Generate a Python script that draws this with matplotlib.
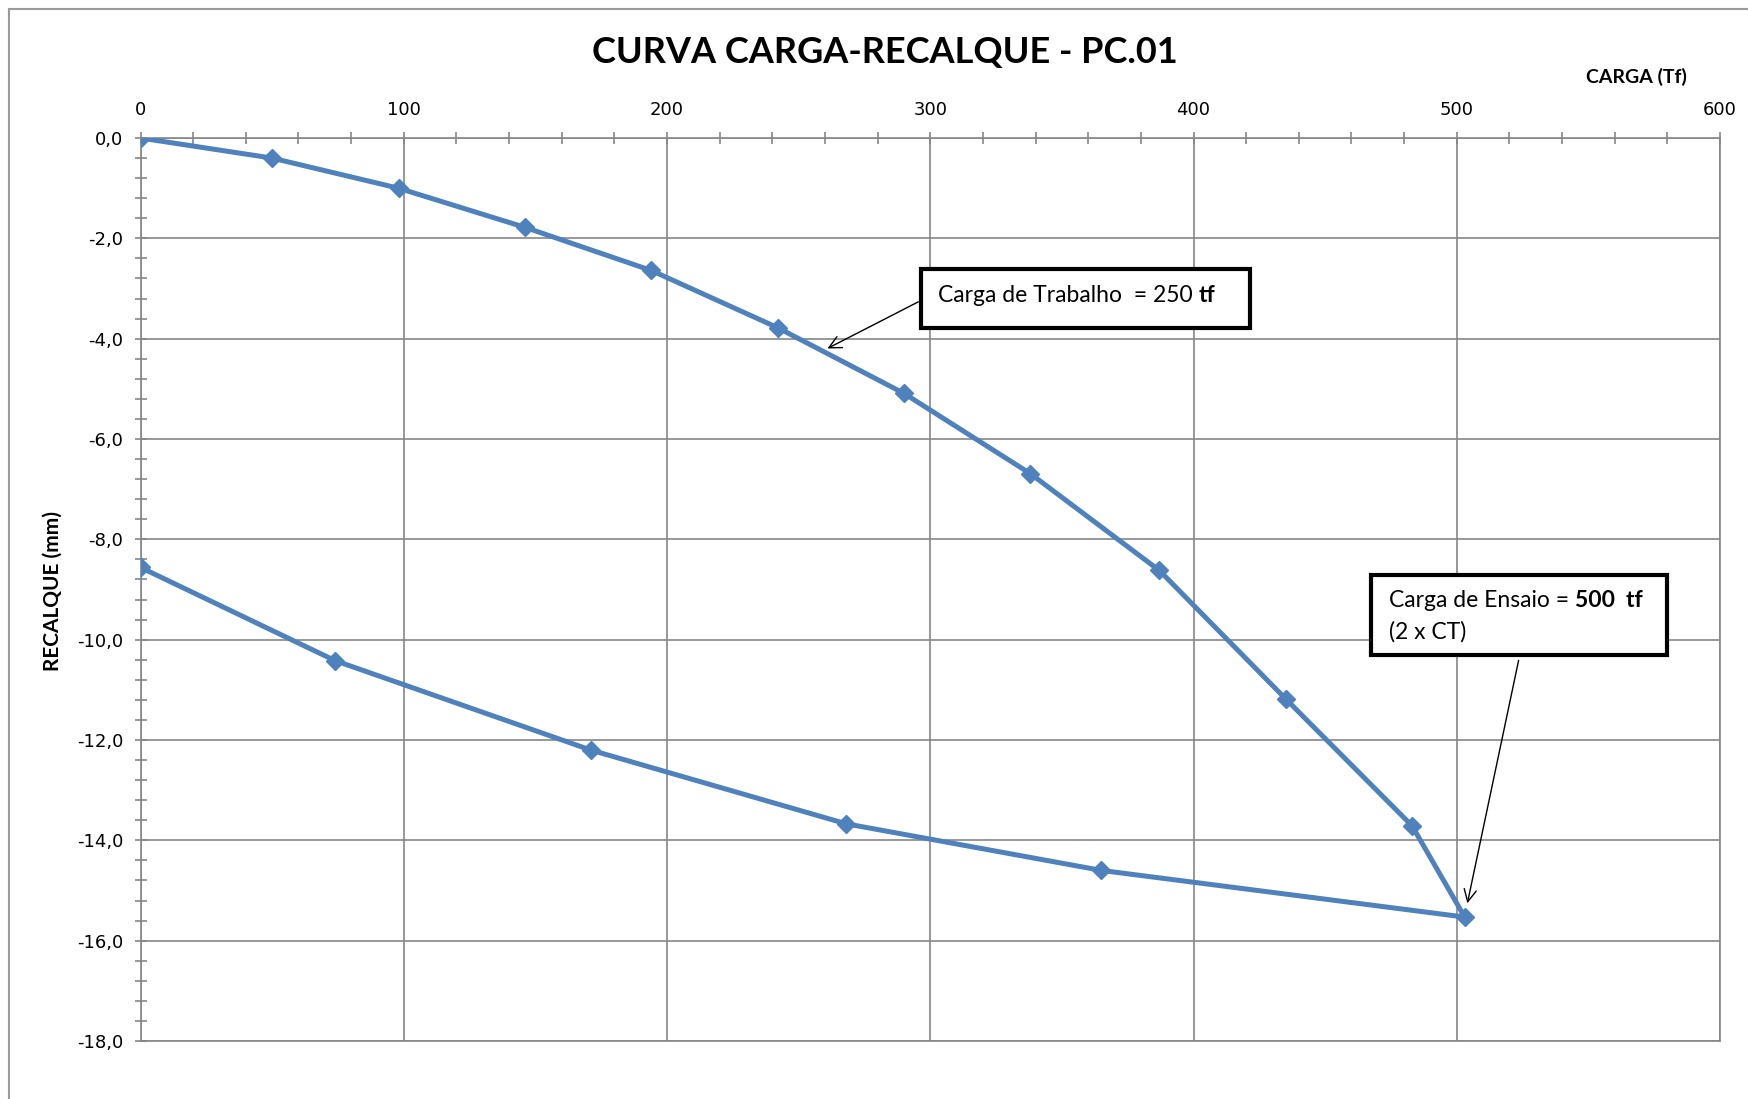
import matplotlib
matplotlib.use("Agg")
import matplotlib.pyplot as plt
from matplotlib.ticker import MultipleLocator, FuncFormatter
from matplotlib.patches import Rectangle
from matplotlib.lines import Line2D

# load (tf) and settlement (mm)
carga_ida = [0, 50, 98, 146, 194, 242, 290, 338, 387, 435, 483, 503]
recalque_ida = [0.0, -0.40, -1.00, -1.78, -2.64, -3.78, -5.09, -6.69, -8.62, -11.18, -13.71, -15.53]
carga_volta = [503, 365, 268, 171, 74, 0]
recalque_volta = [-15.53, -14.60, -13.67, -12.20, -10.42, -8.56]

x_ticks = [0, 100, 200, 300, 400, 500, 600]
y_ticks = [0, -2, -4, -6, -8, -10, -12, -14, -16, -18]

azul = "#4F81BD"
cinza = "#868686"
fonte = "Lato"

fig = plt.figure(figsize=(17.48, 10.99), dpi=100)
ax = fig.add_axes([0.0804, 0.0528, 0.9036, 0.8216])

ax.plot(carga_ida + carga_volta[1:], recalque_ida + recalque_volta[1:], color=azul,
        lw=3.6, marker="D", markersize=9, zorder=3)

ax.set_xlim(0, 600)
ax.set_ylim(-18, 0)
ax.xaxis.tick_top()
ax.set_xticks(x_ticks)
ax.set_yticks(y_ticks)
ax.xaxis.set_minor_locator(MultipleLocator(20))
ax.yaxis.set_minor_locator(MultipleLocator(0.4))
ax.yaxis.set_major_formatter(FuncFormatter(lambda v, p: f"{v:.1f}".replace(".", ",").replace("-0,0", "0,0")))
ax.tick_params(which="both", direction="inout", color=cinza, width=1.2)
ax.tick_params(which="major", length=9, labelsize=13, pad=8)
ax.tick_params(which="minor", length=8)
ax.tick_params(axis="x", which="both", top=True, bottom=False)
ax.tick_params(axis="x", which="major", pad=9)
ax.grid(True, which="major", color=cinza, lw=1.2)
for s in ax.spines.values():
    s.set_color(cinza)
    s.set_linewidth(1.2)

# annotation boxes
ax.add_patch(Rectangle((296.4, -3.78), 124.9, 1.16, facecolor="white", edgecolor="black", lw=3, zorder=5))
t1 = ax.text(303, -3.13, "Carga de Trabalho  = 250 ", fontsize=16.5, family=fonte, va="center", zorder=6)
ax.annotate("tf", xy=(1, 0), xycoords=t1, va="bottom", fontsize=16.5, family=fonte, weight="bold", zorder=6)
ax.annotate("", xy=(260, -4.22), xytext=(296.4, -3.24),
            arrowprops=dict(arrowstyle="->", color="black", lw=1.0, mutation_scale=22), zorder=6)

ax.add_patch(Rectangle((467.4, -10.31), 112.6, 1.6, facecolor="white", edgecolor="black", lw=3, zorder=5))
t2 = ax.text(474.2, -9.22, "Carga de Ensaio = ", fontsize=16.5, family=fonte, va="center", zorder=6)
ax.annotate("500  tf", xy=(1, 0), xycoords=t2, va="bottom", fontsize=16.5, family=fonte, weight="bold", zorder=6)
ax.text(474.2, -9.84, "(2 x CT)", fontsize=16.5, family=fonte, va="center", zorder=6)
ax.annotate("", xy=(503.8, -15.31), xytext=(523.7, -10.36),
            arrowprops=dict(arrowstyle="->", color="black", lw=1.0, mutation_scale=22), zorder=6)

fig.text(0.506, 0.952, "CURVA CARGA-RECALQUE - PC.01", ha="center", va="center",
         fontsize=26, weight="bold", family=fonte)
fig.text(0.936, 0.930, "CARGA (Tf)", ha="center", va="center", fontsize=14, weight="bold", family=fonte)
fig.text(0.030, 0.462, "RECALQUE (mm)", ha="center", va="center", rotation=90,
         fontsize=15, weight="bold", family=fonte)

# outer chart frame
fig.add_artist(Line2D([0.0052, 0.0052], [0, 0.992], color="#9a9a9a", lw=1.5))
fig.add_artist(Line2D([0.0052, 1], [0.992, 0.992], color="#9a9a9a", lw=1.5))

fig.savefig("out.png", dpi=100)
